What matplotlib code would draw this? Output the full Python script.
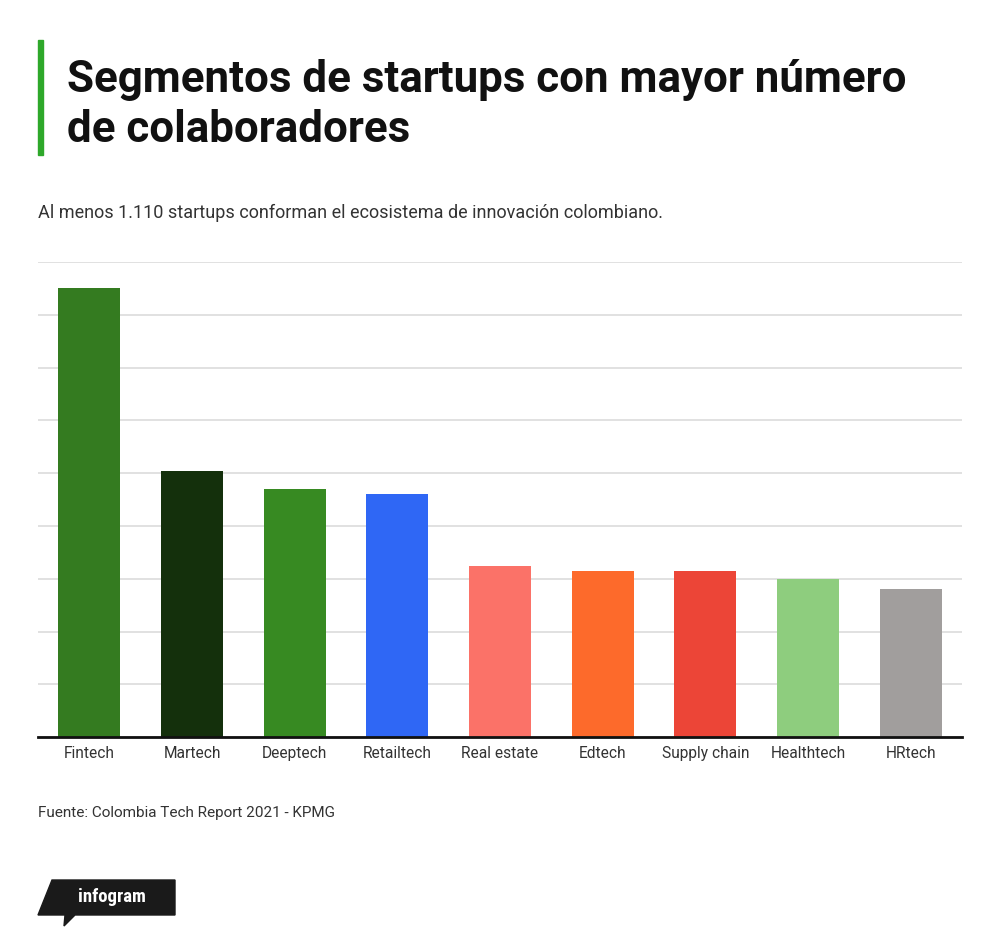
import matplotlib
matplotlib.use("Agg")
import matplotlib.pyplot as plt
from matplotlib.patches import Polygon, Rectangle

categories = ["Fintech", "Martech", "Deeptech", "Retailtech", "Real estate",
              "Edtech", "Supply chain", "Healthtech", "HRtech"]
values = [170, 101, 94, 92, 65, 63, 63, 60, 56]
colors = ["#347b20", "#14300c", "#378a22", "#2f67f5", "#fb7268",
          "#fd6a2b", "#ec4537", "#8ecd7e", "#a19e9d"]
yticks = list(range(0, 181, 20))

title_lines = ["Segmentos de startups con mayor número", "de colaboradores"]
subtitle = "Al menos 1.110 startups conforman el ecosistema de innovación colombiano."
source = "Fuente: Colombia Tech Report 2021 - KPMG"

plt.rcParams['font.family'] = ['Roboto', 'DejaVu Sans']

W, H = 1000, 948
fig = plt.figure(figsize=(W / 100, H / 100), dpi=100)
fig.patch.set_facecolor("white")

def fx(x):
    return x / W

def fy(y):
    return 1 - y / H

ax = fig.add_axes([fx(38), fy(737.3), fx(962) - fx(38), fy(262) - fy(737.3)])
x = list(range(len(categories)))
ax.bar(x, values, width=0.605, color=colors, zorder=3)
ax.set_xlim(-0.5, len(categories) - 0.5)
ax.set_ylim(0, 180)
ax.set_yticks(yticks)
ax.set_yticklabels([])
ax.tick_params(axis='y', length=0)
ax.grid(axis='y', color="#dcdcdc", linewidth=1.2, zorder=0)
ax.set_xticks(x)
ax.set_xticklabels(categories, fontsize=11.2, color="#333333")
ax.tick_params(axis='x', length=0, pad=6)
for s in ["top", "right", "left"]:
    ax.spines[s].set_visible(False)
ax.spines["bottom"].set_color("#111111")
ax.spines["bottom"].set_linewidth(2)
ax.spines["bottom"].set_zorder(4)

# title accent bar
fig.patches.append(Rectangle((fx(38), fy(155)), fx(5), fy(40) - fy(155),
                             transform=fig.transFigure, color="#2ea82a"))
for i, line in enumerate(title_lines):
    fig.text(fx(67), fy(92 + 50 * i), line, fontsize=31.6, fontweight="bold",
             color="#111111", va="baseline", ha="left")
fig.text(fx(38), fy(218), subtitle, fontsize=13, color="#333333", va="baseline")
fig.text(fx(38), fy(817), source, fontsize=11, color="#333333", va="baseline")

# infogram logo
pts = [(fx(52), fy(880)), (fx(175), fy(880)), (fx(175), fy(915)), (fx(75), fy(915)),
       (fx(64), fy(926)), (fx(65), fy(915)), (fx(38), fy(915))]
fig.patches.append(Polygon(pts, closed=True, transform=fig.transFigure,
                           color="#1a1a1a"))
fig.text(fx(112), fy(897), "infogram", fontsize=13.5, fontweight="bold",
         color="white", ha="center", va="center",
         family=["Roboto Condensed", "Roboto", "DejaVu Sans"])

fig.savefig("out.png", dpi=100, facecolor="white")
